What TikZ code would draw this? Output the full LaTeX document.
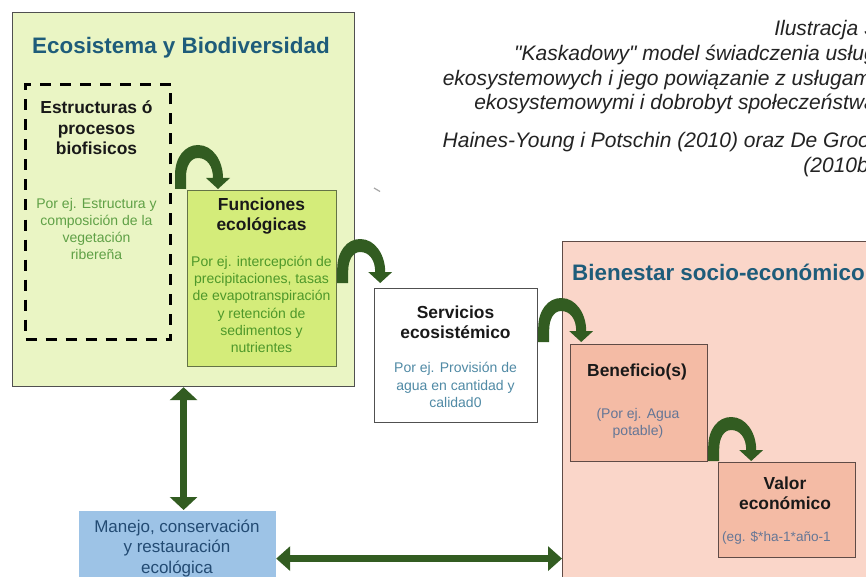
\documentclass[tikz,border=0pt]{standalone}
\usepackage{fontspec}
\setmainfont{Liberation Sans}
\newfontfamily\capfont{Liberation Sans}[Ligatures=TeXOff]
\usetikzlibrary{arrows.meta,calc}
\definecolor{ecofill}{RGB}{234,245,196}
\definecolor{funcfill}{RGB}{212,236,122}
\definecolor{funcline}{RGB}{100,115,70}
\definecolor{bienfill}{RGB}{250,214,201}
\definecolor{benefill}{RGB}{244,187,165}
\definecolor{pinkline}{RGB}{95,75,70}
\definecolor{manfill}{RGB}{157,195,230}
\definecolor{arrowgreen}{RGB}{50,92,33}
\definecolor{titleblue}{RGB}{30,92,122}
\definecolor{greentext}{RGB}{78,152,42}
\definecolor{lgreentext}{RGB}{95,160,70}
\definecolor{servtext}{RGB}{80,138,165}
\definecolor{benetext}{RGB}{100,118,150}
\definecolor{mantext}{RGB}{35,75,115}
\definecolor{captext}{RGB}{35,35,35}
\definecolor{boxline}{RGB}{80,80,80}
\tikzset{
  box/.style={rectangle, inner sep=0pt, anchor=north west, line width=1.2pt},
  bold/.style={font=\bfseries\fontsize{17.4}{20.5}\selectfont, align=center, text=black!90, inner sep=0pt},
  small/.style={font=\fontsize{14}{17.3}\selectfont, align=center, inner sep=0pt},
  titletext/.style={font=\bfseries\fontsize{22.4}{26}\selectfont, text=titleblue, inner sep=0pt},
  captxt/.style={font=\capfont\itshape\fontsize{21}{25}\selectfont, text=captext, inner sep=0pt, anchor=base east},
  dbl/.style={draw=arrowgreen, line width=7pt},
  casc/.pic={\fill[arrowgreen] (0,0) -- (0,-14) .. controls (0,-32) and (10,-44) .. (23,-44)
      .. controls (38,-44) and (48,-28) .. (48,-11) -- (55,-11) -- (43,0) -- (31,-11) -- (38,-11)
      .. controls (38,-23) and (32,-31) .. (23,-31) .. controls (15,-31) and (11,-22) .. (11,-12)
      -- (11,0) -- cycle;}
}
\begin{document}
\begin{tikzpicture}[x=1pt,y=-1pt]
\useasboundingbox (0,0) rectangle (866,577);
\clip (0,0) rectangle (866,577);
\fill[white] (0,0) rectangle (866,577);

% caption
\node[captxt] (cap1) at (876,36) {Ilustracja 3};
\node[captxt] (cap2) at (876,61) {"Kaskadowy" model świadczenia usług};
\node[captxt] (cap3) at (876,86) {ekosystemowych i jego powiązanie z usługami};
\node[captxt] (cap4) at (876,110) {ekosystemowymi i dobrobyt społeczeństwa};
\node[captxt] (cap5) at (876,148) {Haines-Young i Potschin (2010) oraz De Groot};
\node[captxt] (cap6) at (876,173) {(2010b)};

% boxes
\node[box, draw=boxline, fill=ecofill, minimum width=342pt, minimum height=374pt] (eco) at (12,12) {};
\node[box, draw=black, line width=3pt, dash pattern=on 11pt off 9pt, minimum width=145pt, minimum height=255pt] (dash) at (24,83) {};
\node[box, draw=funcline, fill=funcfill, minimum width=149pt, minimum height=176pt] (func) at (187,190) {};
\node[box, draw=boxline, fill=white, minimum width=163pt, minimum height=134pt] (serv) at (374,288) {};
\node[box, draw=pinkline, fill=bienfill, minimum width=330pt, minimum height=360pt] (bien) at (562,241) {};
\node[box, draw=pinkline, fill=benefill, minimum width=137pt, minimum height=117pt] (bene) at (570,344) {};
\node[box, draw=pinkline, fill=benefill, minimum width=137pt, minimum height=95pt] (valor) at (718,462) {};
\node[box, fill=manfill, minimum width=197pt, minimum height=96pt] (manejo) at (78,510) {};

% titles
\node[titletext] (ecotitle) at (181,48) {Ecosistema y Biodiversidad};
\node[titletext, anchor=west] (bientitle) at (572,272) {Bienestar socio-económico};

% labels
\node[bold] (estr) at (96.5,128) {Estructuras ó\\procesos\\biofisicos};
\node[small, text=lgreentext] (estrtxt) at (96.5,229) {Por ej. Estructura y\\composición de la\\vegetación\\ribereña};
\node[bold] (funclbl) at (261.5,216) {Funciones\\ecológicas};
\node[small, text=greentext] (functxt) at (261.5,304.5) {Por ej. intercepción de\\precipitaciones, tasas\\de evapotranspiración\\y retención de\\sedimentos y\\nutrientes};
\node[bold] (servlbl) at (455.5,322.5) {Servicios\\ecosistémico};
\node[small, text=servtext] (servtxt) at (455.5,385) {Por ej. Provisión de\\agua en cantidad y\\calidad0};
\node[bold] (benelbl) at (637,372) {Beneficio(s)};
\node[small, text=benetext] (benetxt) at (638,423.5) {(Por ej. Agua\\potable)};
\node[bold] (valorlbl) at (785,493.5) {Valor\\económico};
\node[small, text=benetext, font=\fontsize{13.6}{16}\selectfont, anchor=west] (valortxt) at (722,538) {(eg. \$*ha-1*año-1};
\node[font=\fontsize{17}{20.5}\selectfont, text=mantext, align=center, inner sep=0pt] (manlbl) at (177,548) {Manejo, conservación\\y restauración\\ecológica};

% cascade arrows
\pic at ($(dash.east |- func.north)+(3,-1)$) {casc};
\pic at ($(func.east |- serv.north)+(0,-5)$) {casc};
\pic at ($(serv.east |- bene.north)+(0,-2)$) {casc};
\pic at ($(bene.east |- valor.north)+(0,-1)$) {casc};

% double arrows
\draw[dbl, {Triangle[width=27pt,length=13pt]}-{Triangle[width=27pt,length=13pt]}] (eco.south) -- (eco.south |- manejo.north);
\draw[dbl, {Triangle[width=24pt,length=14pt]}-{Triangle[width=24pt,length=14pt]}] (manejo.east) -- (manejo.east -| bien.west);

% stray mark
\draw[gray!70, line width=1.2pt] (374,188) -- (380,191.5);
\end{tikzpicture}
\end{document}
